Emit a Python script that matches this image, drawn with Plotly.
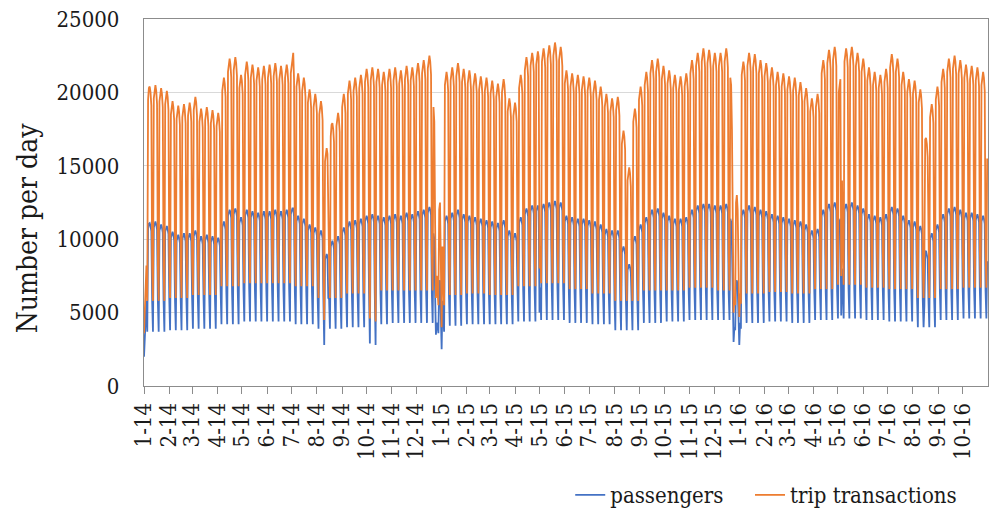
import datetime as dt
import plotly.graph_objects as go

# ---------------------------------------------------------------
# Weekly weekday (Mon-Fri) levels, one entry per week.
# Week 0 starts Monday 2013-12-30; last week starts 2016-10-31.
# ---------------------------------------------------------------
trips_weekday = [
    5900,                                   # w0 (New Year)
    20000, 20100, 19900, 19700,             # Jan 2014
    19000, 18700, 18800, 18900,             # Feb
    19300, 18500, 18600, 18400, 18200,      # Mar
    20600, 21900, 22000, 20800,             # Apr
    21700, 21500, 21300, 21400,             # May
    21500, 21600, 21400, 21500, 21800,      # Jun
    20900, 20600, 19800, 19500,             # Jul
    19000, 15800, 17500, 18200,             # Aug
    19500, 20400, 20600, 20800, 21200,      # Sep
    21300, 21200, 21000, 21200,             # Oct
    21300, 21100, 21400, 21300,             # Nov
    21600, 21800, 22100, 19500, 11000,      # Dec
    21000, 21300, 21600, 21200,             # Jan 2015
    21100, 20900, 20700, 20600,             # Feb
    20400, 20200, 20500, 19200, 18900,      # Mar
    20800, 22000, 22300, 22400,             # Apr
    22600, 22800, 23000, 22700,             # May
    21100, 20900, 20800, 20700, 20600,      # Jun
    20400, 20000, 19500, 19200,             # Jul
    19300, 17000, 14500, 18500, 20000,      # Aug
    21000, 21800, 21900, 21400,             # Sep
    21100, 20800, 20700, 20900,             # Oct
    21800, 22300, 22600, 22500, 22300,      # Nov
    22300, 22600, 21500, 10500,             # Dec
    21700, 22300, 22200, 21800,             # Jan 2016
    21600, 21300, 21000, 20900, 20700,      # Feb
    20600, 20300, 19900, 19200,             # Mar
    19500, 21800, 22500, 22700,             # Apr
    20500, 22600, 22700, 22300, 21900,      # May
    21300, 21000, 20800, 21200,             # Jun
    22200, 21900, 21000, 20500,             # Jul
    20400, 19800, 16500, 18800, 20000,      # Aug
    21200, 21900, 22100, 21800,             # Sep
    21500, 21400, 21300, 21000, 15500,      # Oct
]

passengers_weekday = [
    3600,
    10900, 11000, 10800, 10700,
    10300, 10100, 10200, 10200,
    10400, 10000, 10100, 10000, 9900,
    11000, 11800, 11900, 11300,
    11800, 11700, 11600, 11700,
    11700, 11800, 11700, 11800, 11900,
    11400, 11200, 10800, 10600,
    10400, 8800, 9700, 10000,
    10600, 11000, 11100, 11200, 11400,
    11500, 11400, 11300, 11400,
    11500, 11400, 11600, 11500,
    11700, 11800, 12000, 10600, 6500,
    11400, 11600, 11800, 11500,
    11400, 11300, 11200, 11100,
    11000, 10900, 11100, 10400, 10200,
    11300, 11900, 12100, 12100,
    12200, 12300, 12400, 12300,
    11400, 11300, 11200, 11200, 11100,
    11000, 10800, 10500, 10400,
    10400, 9300, 8100, 10000, 10800,
    11300, 11800, 11900, 11600,
    11400, 11200, 11200, 11300,
    11800, 12100, 12200, 12200, 12100,
    12100, 12200, 11600, 6200,
    11800, 12100, 12000, 11800,
    11700, 11500, 11400, 11300, 11200,
    11100, 11000, 10800, 10400,
    10500, 11800, 12200, 12300,
    11200, 12200, 12300, 12100, 11900,
    11500, 11400, 11300, 11500,
    12000, 11900, 11400, 11100,
    11000, 10700, 9000, 10200, 10800,
    11500, 11900, 12000, 11800,
    11600, 11600, 11500, 11400, 8500,
]

# Typical day-of-week deviation from the weekly level (Mon..Fri)
trips_dow_offset = [-500, 300, 400, 0, -900]
passengers_dow_offset = [-200, 150, 200, 0, -350]

# ---------------------------------------------------------------
# Monthly weekend levels, Jan 2014 .. Oct 2016 (34 months)
# ---------------------------------------------------------------
trips_saturday = [
    8200, 8400, 8600, 9200, 9400, 9400, 9200, 8400, 8800, 9000, 9000, 9000,
    8600, 8800, 8700, 9300, 9500, 9100, 8800, 8200, 9000, 9000, 9200, 9000,
    8800, 8900, 8800, 9100, 9400, 9200, 9100, 8400, 9100, 9200,
]
trips_sunday = [
    5800, 6000, 6200, 6800, 7000, 7000, 6800, 6000, 6300, 6500, 6500, 6500,
    6200, 6300, 6200, 6800, 7000, 6600, 6300, 5800, 6500, 6500, 6700, 6500,
    6300, 6400, 6300, 6600, 6900, 6700, 6600, 6000, 6600, 6700,
]
passengers_saturday = [
    5800, 5900, 6000, 6400, 6600, 6600, 6400, 5900, 6100, 6300, 6300, 6300,
    6100, 6200, 6100, 6500, 6700, 6400, 6200, 5800, 6300, 6300, 6500, 6300,
    6200, 6300, 6200, 6400, 6600, 6500, 6400, 5900, 6400, 6500,
]
passengers_sunday = [
    3700, 3800, 3900, 4200, 4400, 4400, 4200, 3900, 4000, 4200, 4300, 4300,
    4100, 4200, 4200, 4400, 4500, 4300, 4200, 3800, 4300, 4400, 4500, 4500,
    4300, 4400, 4300, 4500, 4600, 4500, 4400, 4000, 4500, 4600,
]

# Holidays and other irregular days: date -> (trip transactions, passengers)
special_days = {
    "2014-01-01": (3600, 2000),
    "2014-01-02": (5700, 3400),
    "2014-01-03": (6000, 3700),
    "2014-07-03": (22700, 12100),
    "2014-08-10": (4500, 2800),
    "2014-08-15": (10000, 6000),
    "2014-10-05": (4600, 2900),
    "2014-10-12": (4400, 2800),
    "2014-12-23": (18000, 10000),
    "2014-12-24": (11000, 6200),
    "2014-12-25": (6000, 3500),
    "2014-12-26": (7500, 4300),
    "2014-12-27": (6500, 4200),
    "2014-12-28": (5500, 3600),
    "2014-12-29": (12000, 7000),
    "2014-12-30": (12500, 7200),
    "2014-12-31": (8500, 5000),
    "2015-01-01": (4000, 2500),
    "2015-01-02": (9500, 5800),
    "2015-01-03": (6500, 4200),
    "2015-01-04": (5500, 3700),
    "2015-05-01": (8000, 5000),
    "2015-12-22": (20500, 11200),
    "2015-12-23": (17500, 9600),
    "2015-12-24": (12000, 6800),
    "2015-12-25": (5000, 3000),
    "2015-12-26": (6000, 4000),
    "2015-12-27": (5500, 3800),
    "2015-12-28": (12500, 7000),
    "2015-12-29": (13000, 7200),
    "2015-12-30": (12000, 6800),
    "2015-12-31": (8500, 5000),
    "2016-01-01": (4700, 2800),
    "2016-01-02": (6300, 4300),
    "2016-01-03": (5600, 3900),
    "2016-05-05": (7500, 4800),
    "2016-05-06": (14000, 8000),
    "2016-08-15": (9000, 5500),
    "2016-10-31": (15500, 8500),
}

# Month tick labels
tick_labels = [f"{m}-{y}" for y in (14, 15, 16) for m in range(1, 13)][:34]

# ---------------------------------------------------------------
# Assemble the daily series
# ---------------------------------------------------------------
start = dt.date(2014, 1, 1)
end = dt.date(2016, 10, 31)
week0 = dt.date(2013, 12, 30)

dates, trips, passengers = [], [], []
d = start
while d <= end:
    w = (d - week0).days // 7
    m = (d.year - 2014) * 12 + d.month - 1
    wd = d.weekday()
    if wd < 5:
        t = trips_weekday[w] + trips_dow_offset[wd]
        p = passengers_weekday[w] + passengers_dow_offset[wd]
    elif wd == 5:
        t, p = trips_saturday[m], passengers_saturday[m]
    else:
        t, p = trips_sunday[m], passengers_sunday[m]
    key = d.isoformat()
    if key in special_days:
        t, p = special_days[key]
    dates.append(key)
    trips.append(t)
    passengers.append(p)
    d += dt.timedelta(days=1)

tick_vals = [dt.date(2014 + i // 12, i % 12 + 1, 1).isoformat() for i in range(34)]

SERIF = "DejaVu Serif Condensed"
TEXT = "#1a1a1a"
AXIS_GREY = "#8c8c8c"

fig = go.Figure()
fig.add_trace(go.Scatter(
    x=dates, y=passengers, mode="lines", name="passengers",
    line=dict(color="#4472C4", width=1.8), legend="legend",
))
fig.add_trace(go.Scatter(
    x=dates, y=trips, mode="lines", name="trip transactions",
    line=dict(color="#ED7D31", width=1.8), legend="legend2",
))

legend_common = dict(
    orientation="h", y=-0.240, yanchor="top", xanchor="left",
    font=dict(family=SERIF, size=22, color=TEXT),
    bgcolor="rgba(0,0,0,0)", itemwidth=30,
)

fig.update_layout(
    width=990, height=509,
    margin=dict(l=144, r=2, t=19, b=123, autoexpand=False),
    paper_bgcolor="white", plot_bgcolor="white",
    font=dict(family=SERIF, size=22, color=TEXT),
    showlegend=True,
    legend=dict(x=0.505, **legend_common),
    legend2=dict(x=0.718, **legend_common),
    annotations=[dict(
        text="Number per day", xref="paper", yref="paper",
        x=-0.1386, y=0.43, xanchor="center", yanchor="middle",
        textangle=-90, showarrow=False,
        font=dict(family=SERIF, size=28, color=TEXT),
    )],
)

fig.update_xaxes(
    type="date", range=["2014-01-01", "2016-11-01"],
    tickmode="array", tickvals=tick_vals, ticktext=tick_labels,
    tickangle=-90, ticks="outside", ticklen=7, tickcolor=AXIS_GREY,
    showgrid=False, showline=True, linecolor=AXIS_GREY, linewidth=1.3,
    mirror=True, tickfont=dict(family=SERIF, size=22, color=TEXT),
)
fig.update_yaxes(
    range=[0, 25000], dtick=5000, tickformat="d",
    showgrid=True, gridcolor="#d9d9d9", gridwidth=1, zeroline=False,
    showline=True, linecolor=AXIS_GREY, linewidth=1.3, mirror=True,
    ticks="", ticklabelstandoff=19,
    tickfont=dict(family=SERIF, size=22, color=TEXT),
)

fig.write_html("out.html")
